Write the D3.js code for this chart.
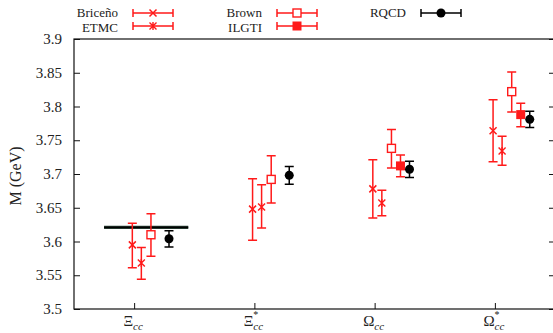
<!DOCTYPE html>
<html><head><meta charset="utf-8">
<script src="https://cdn.jsdelivr.net/npm/d3@7"></script>
<style>body{margin:0;background:#fff}svg{display:block}</style>
</head><body><svg id="c" width="553" height="333"></svg>
<script>
const categories = ["Xi_cc", "Xi*_cc", "Omega_cc", "Omega*_cc"];
const yTicks = [3.5, 3.55, 3.6, 3.65, 3.7, 3.75, 3.8, 3.85, 3.9];
const seriesNames = ["Briceño", "ETMC", "Brown", "ILGTI", "RQCD"];
const offsets = [-0.015, 0.06, 0.14, 0.215, 0.29];
// [category index, value, plus err, minus err]
const briceno = [[0, 3.595, 0.032, 0.034], [1, 3.648, 0.045, 0.046], [2, 3.678, 0.043, 0.043], [3, 3.764, 0.046, 0.046]];
const etmc    = [[0, 3.568, 0.023, 0.024], [1, 3.651, 0.033, 0.031], [2, 3.657, 0.019, 0.019], [3, 3.734, 0.022, 0.021]];
const brown   = [[0, 3.610, 0.031, 0.032], [1, 3.692, 0.035, 0.035], [2, 3.738, 0.028, 0.029], [3, 3.822, 0.029, 0.030]];
const ilgti   = [[2, 3.712, 0.016, 0.016], [3, 3.788, 0.017, 0.018]];
const rqcd    = [[0, 3.604, 0.012, 0.012], [1, 3.698, 0.013, 0.013], [2, 3.707, 0.012, 0.012], [3, 3.781, 0.012, 0.012]];
const expLine = {value: 3.621, from: 0.75, to: 1.45};

const FONT = "Liberation Serif";
const svg = d3.select("#c");
const L = 74, R = 555, T = 39, B = 309;
const x = d3.scaleLinear().domain([0.5, 4.5]).range([L, R]);
const y = d3.scaleLinear().domain([3.5, 3.9]).range([B, T]);

// frame
svg.append("rect").attr("x", L).attr("y", T).attr("width", R - L).attr("height", B - T)
  .attr("fill", "none").attr("stroke", "#111").attr("stroke-width", 1.2);

// y axis
const ya = svg.append("g").attr("transform", `translate(${L},0)`)
  .call(d3.axisRight(y).tickValues(yTicks).tickSize(6).tickFormat(""));
ya.select(".domain").remove();
ya.selectAll("line").attr("stroke", "#111");
const ya2 = svg.append("g").attr("transform", `translate(${R},0)`)
  .call(d3.axisLeft(y).tickValues(yTicks).tickSize(6).tickFormat(""));
ya2.select(".domain").remove();
ya2.selectAll("line").attr("stroke", "#111");
svg.selectAll(".ylab").data(yTicks).join("text").attr("class", "ylab")
  .attr("x", 62).attr("y", d => y(d) + 5).attr("text-anchor", "end")
  .style("font-family", FONT).attr("fill", "#222")
  .attr("font-size", 15).text(d => d3.format("")(d));

// x axis
const xa = svg.append("g").attr("transform", `translate(0,${B})`)
  .call(d3.axisTop(x).tickValues([1, 2, 3, 4]).tickSize(6).tickFormat(""));
xa.select(".domain").remove();
xa.selectAll("line").attr("stroke", "#111");
const xl = [["Ξ", ""], ["Ξ", "*"], ["Ω", ""], ["Ω", "*"]];
xl.forEach((d, i) => {
  const t = svg.append("text").attr("x", x(i + 1) - 1).attr("y", 326).attr("text-anchor", "middle")
    .style("font-family", FONT).attr("fill", "#222").attr("font-size", 15);
  t.append("tspan").text(d[0]);
  if (d[1]) {
    t.append("tspan").attr("font-size", 10).attr("dy", -8).text(d[1]);
    t.append("tspan").attr("font-size", 11).attr("font-style", "italic").attr("dx", -5).attr("dy", 12).text("cc");
  } else {
    t.append("tspan").attr("font-size", 11).attr("font-style", "italic").attr("dy", 4).text("cc");
  }
});

// y label
svg.append("text").attr("transform", "translate(21,176) rotate(-90)").attr("text-anchor", "middle")
  .style("font-family", FONT).attr("fill", "#222")
  .attr("font-size", 16).text("M (GeV)");

// experimental line
svg.append("line").attr("x1", x(expLine.from)).attr("x2", x(expLine.to))
  .attr("y1", y(expLine.value)).attr("y2", y(expLine.value)).attr("stroke", "#2e4a3c").attr("stroke-width", 3.4);
svg.append("line").attr("x1", x(expLine.from)).attr("x2", x(expLine.to))
  .attr("y1", y(expLine.value)).attr("y2", y(expLine.value)).attr("stroke", "#000").attr("stroke-width", 1.6);

const RED = "#ff1a1a";
function marker(g, type, cx, cy, color) {
  if (type === "x") {
    g.append("path").attr("d", `M${cx-3.5},${cy-3.5}L${cx+3.5},${cy+3.5}M${cx-3.5},${cy+3.5}L${cx+3.5},${cy-3.5}`)
      .attr("stroke", color).attr("stroke-width", 1.5);
  } else if (type === "star") {
    g.append("path").attr("d", `M${cx-3.5},${cy-3.5}L${cx+3.5},${cy+3.5}M${cx-3.5},${cy+3.5}L${cx+3.5},${cy-3.5}M${cx},${cy-4}L${cx},${cy+4}`)
      .attr("stroke", color).attr("stroke-width", 1.4);
  } else if (type === "osq") {
    g.append("rect").attr("x", cx - 4).attr("y", cy - 4).attr("width", 8).attr("height", 8)
      .attr("fill", "#fff").attr("stroke", color).attr("stroke-width", 1.4);
  } else if (type === "fsq") {
    g.append("rect").attr("x", cx - 4.5).attr("y", cy - 4.5).attr("width", 9).attr("height", 9).attr("fill", color);
  } else if (type === "circ") {
    g.append("circle").attr("cx", cx).attr("cy", cy).attr("r", 4.5).attr("fill", color);
  }
}
const series = [
  {data: briceno, type: "x", color: RED},
  {data: etmc, type: "star", color: RED},
  {data: brown, type: "osq", color: RED},
  {data: ilgti, type: "fsq", color: RED},
  {data: rqcd, type: "circ", color: "#000"}
];
series.forEach((s, si) => {
  const g = svg.append("g");
  s.data.forEach(d => {
    const cx = x(d[0] + 1 + offsets[si]);
    const yt = y(d[1] + d[2]), yb = y(d[1] - d[3]);
    g.append("path").attr("d", `M${cx},${yt}L${cx},${yb}M${cx-4.5},${yt}L${cx+4.5},${yt}M${cx-4.5},${yb}L${cx+4.5},${yb}`)
      .attr("stroke", s.color).attr("stroke-width", 1.5).attr("fill", "none");
    marker(g, s.type, cx, y(d[1]), s.color);
  });
});

// legend
const leg = [
  {name: seriesNames[0], tx: 118, ty: 13, s: 0},
  {name: seriesNames[1], tx: 118, ty: 26, s: 1},
  {name: seriesNames[2], tx: 262, ty: 13, s: 2},
  {name: seriesNames[3], tx: 262, ty: 26, s: 3},
  {name: seriesNames[4], tx: 406, ty: 13, s: 4}
];
leg.forEach((l, i) => {
  const s = series[l.s];
  svg.append("text").attr("x", l.tx).attr("y", l.ty < 20 ? 17 : 31.5).attr("text-anchor", "end")
    .style("font-family", FONT).attr("fill", "#222").attr("font-size", 13).text(l.name);
  const x0 = l.tx + 15, x1 = l.tx + 55, cy = l.ty;
  svg.append("path").attr("d", `M${x0},${cy}L${x1},${cy}M${x0},${cy-4}L${x0},${cy+4}M${x1},${cy-4}L${x1},${cy+4}`)
    .attr("stroke", s.color).attr("stroke-width", 1.5).attr("fill", "none");
  marker(svg, s.type, (x0 + x1) / 2, cy, s.color);
});
</script></body></html>
